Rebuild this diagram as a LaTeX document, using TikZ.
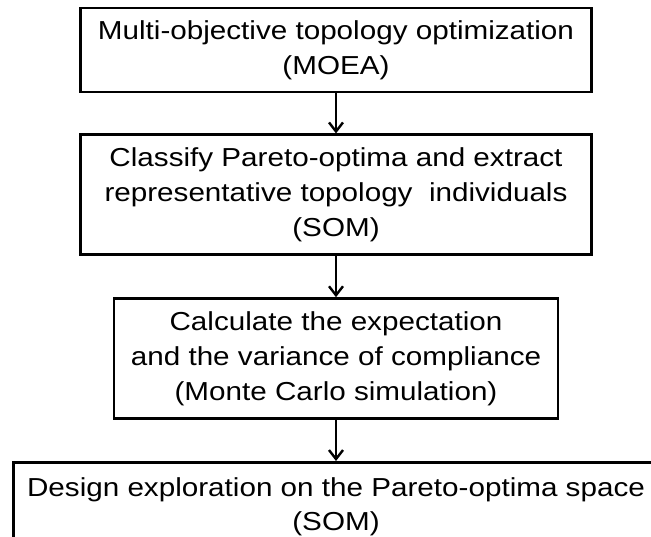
\documentclass[tikz,border=0pt]{standalone}
\usepackage{fontspec}
\setmainfont{Liberation Sans}[FakeStretch=1.14]
\usetikzlibrary{positioning,arrows.meta}

\begin{document}
\begin{tikzpicture}[x=1pt,y=-1pt,>={Straight Barb[length=9pt,width=14pt]},line width=2.4pt,stage/.style={draw,line width=2.8pt,align=center,inner sep=0pt,font=\fontsize{26}{35}\selectfont}]

            \useasboundingbox (0,0) rectangle (651,536);
            \clip (0,0) rectangle (651,536);

            \node[stage, minimum width=511pt, minimum height=84pt] (1) at (336,50) {Multi-objective topology optimization\\(MOEA)};
            \node[stage, minimum width=511pt, minimum height=120pt] (2) [below=40pt of 1] {Classify Pareto-optima and extract\\representative topology~ individuals\\(SOM)};
            \node[stage, minimum width=444pt, minimum height=120pt] (3) [below=41pt of 2] {Calculate the expectation\\and the variance of compliance\\(Monte Carlo simulation)};
            \node[stage, minimum width=645pt, minimum height=88pt, font=\fontsize{26}{34}\selectfont] (4) [below=41pt of 3] {Design exploration on the Pareto-optima space\\(SOM)};

            % \path[every node/.style={font=\small}]

            \draw[->] (1) to (2);
            \draw[->] (2) to (3);
            \draw[->] (3) to (4);

        \end{tikzpicture}
\end{document}
